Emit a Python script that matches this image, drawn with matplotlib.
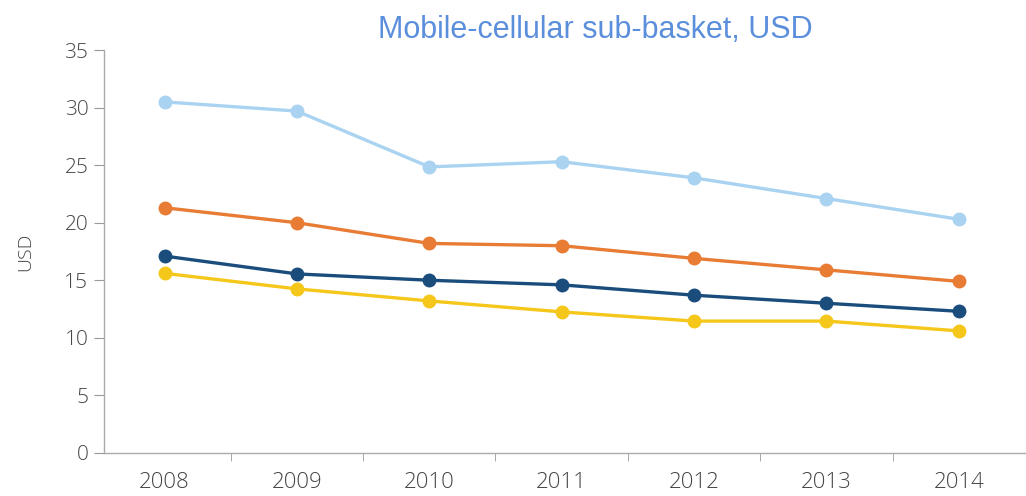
import matplotlib.pyplot as plt
import numpy as np

years = ['2008', '2009', '2010', '2011', '2012', '2013', '2014']
light_blue = [30.5, 29.7, 24.85, 25.3, 23.9, 22.1, 20.3]
orange = [21.3, 20.0, 18.2, 18.0, 16.9, 15.9, 14.9]
dark_blue = [17.1, 15.55, 15.0, 14.6, 13.7, 13.0, 12.3]
yellow = [15.6, 14.25, 13.2, 12.25, 11.45, 11.45, 10.6]

series = [
    (light_blue, '#a9d3f0'),
    (orange, '#e87c34'),
    (dark_blue, '#1a4c7c'),
    (yellow, '#f5c71a'),
]

plt.rcParams['font.family'] = ['Open Sans', 'DejaVu Sans']

fig = plt.figure(figsize=(10.26, 4.96), dpi=100)
ax = fig.add_axes([0.101, 0.087, 0.898, 0.812])

x = np.arange(len(years))
for vals, col in series:
    ax.plot(x, vals, color=col, linewidth=2.4, marker='o', markersize=9, zorder=3)

ax.set_xlim(-0.46, 6.5)
ax.set_ylim(0, 35)
ax.set_yticks(range(0, 36, 5))
ax.set_xticks(x)
ax.set_xticklabels(years)
ax.set_xticks(np.arange(0.5, 6, 1), minor=True)
ax.tick_params(axis='x', which='major', length=0, pad=14, labelsize=16, labelcolor='#454545')
ax.tick_params(axis='x', which='minor', length=6, color='#999999', direction='out')
ax.tick_params(axis='y', length=7, color='#999999', labelsize=15, labelcolor='#454545', pad=4)
for lab in ax.get_xticklabels() + ax.get_yticklabels():
    lab.set_fontweight('light')

for s in ['top', 'right']:
    ax.spines[s].set_visible(False)
for s in ['left', 'bottom']:
    ax.spines[s].set_color('#aaaaaa')
    ax.spines[s].set_linewidth(1)

ax.set_ylabel('USD', fontsize=14, color='#454545', labelpad=22, fontweight='light')

fig.text(0.58, 0.94, 'Mobile-cellular sub-basket, USD', fontsize=22, color='#5b8fdc',
         ha='center', va='center', family='Liberation Sans')

fig.savefig('out.png', dpi=100)
